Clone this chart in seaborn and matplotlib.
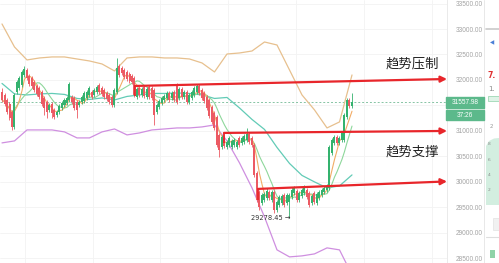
import numpy as np
import pandas as pd
import matplotlib
matplotlib.use("Agg")
import matplotlib.pyplot as plt
from matplotlib.patches import Rectangle, Polygon
import seaborn as sns

# ---------------- data ----------------
open_ = [31763, 31704, 31606, 31527, 31370, 31076, 31763, 31842, 31901, 32097,
         32195, 32077, 32038, 31960, 31881, 31842, 31763, 31645, 31567, 31410,
         31527, 31410, 31311, 31370, 31449, 31508, 31547, 31606, 31665, 31645,
         31567, 31508, 31567, 31586, 31645, 31704, 31763, 31704, 31763, 31901,
         31842, 31802, 31743, 31704, 31665, 31508, 31763, 32274, 32234, 32195,
         32156, 32117, 32077, 32038, 31665, 31842, 31704, 31861, 31665, 31861,
         31842, 31802, 31370, 31469, 31547, 31606, 31645, 31743, 31645, 31763,
         31881, 31645, 31822, 31665, 31763, 31567, 31645, 31704, 31763, 31881,
         31802, 31743, 31665, 31606, 31469, 31351, 31272, 30919, 30683, 30860,
         30683, 30722, 30683, 30722, 30683, 30860, 30762, 30781, 30820, 30938,
         30860, 30722, 30172, 29799, 29583, 29642, 29681, 29799, 29642, 29799,
         29446, 29544, 29583, 29740, 29583, 29603, 29701, 29779, 29819, 29642,
         29721, 29779, 29838, 29779, 29583, 29779, 29583, 29681, 29740, 29799,
         29838, 29878, 30565, 30762, 30879, 30762, 30820, 30820, 31272, 31606,
         31488]
close = [31606, 31527, 31370, 31252, 31076, 31704, 31960, 32038, 32156, 32215,
         32038, 31920, 31881, 31802, 31724, 31665, 31527, 31449, 31370, 31508,
         31351, 31272, 31370, 31488, 31547, 31606, 31645, 31920, 31567, 31449,
         31410, 31567, 31665, 31743, 31763, 31842, 31665, 31802, 31861, 31763,
         31724, 31665, 31626, 31567, 31508, 31802, 32234, 32097, 32136, 32058,
         32018, 31979, 31960, 31704, 31822, 31704, 31822, 31685, 31822, 31665,
         31645, 31311, 31508, 31586, 31645, 31685, 31743, 31606, 31743, 31606,
         31567, 31822, 31665, 31763, 31567, 31704, 31763, 31842, 31881, 31743,
         31645, 31586, 31449, 31292, 31174, 31056, 30722, 30624, 30879, 30703,
         30781, 30860, 30801, 30820, 30781, 30722, 30860, 30899, 30938, 30781,
         30722, 30133, 29642, 29505, 29740, 29760, 29819, 29681, 29799, 29446,
         29603, 29701, 29721, 29544, 29740, 29740, 29838, 29878, 29642, 29779,
         29838, 29878, 29701, 29544, 29721, 29603, 29760, 29799, 29838, 29878,
         29917, 30683, 30820, 30879, 30762, 30860, 30958, 31311, 31606, 31488,
         31557.98]
high = [31842, 31745, 31650, 31570, 31410, 31745, 32000, 32080, 32195, 32274,
        32235, 32117, 32080, 32000, 31920, 31880, 31800, 31685, 31606, 31550,
        31567, 31450, 31410, 31527, 31586, 31645, 31685, 31960, 31704, 31685,
        31606, 31606, 31704, 31783, 31802, 31881, 31802, 31842, 31901, 31940,
        31881, 31842, 31783, 31743, 31704, 31842, 32431, 32314, 32274, 32234,
        32195, 32156, 32117, 32077, 31861, 31881, 31861, 31901, 31861, 31901,
        31881, 31842, 31547, 31626, 31685, 31724, 31783, 31783, 31783, 31802,
        31940, 31861, 31861, 31802, 31802, 31743, 31802, 31881, 31920, 31920,
        31842, 31783, 31704, 31645, 31508, 31390, 31311, 30958, 30919, 30899,
        30820, 30899, 30840, 30860, 30820, 30899, 30899, 30938, 31056, 30978,
        30899, 30762, 30211, 29838, 29779, 29799, 29878, 29838, 29838, 29838,
        29642, 29740, 29760, 29779, 29779, 29779, 29897, 29917, 29858, 29819,
        29878, 29937, 29878, 29819, 29760, 29819, 29799, 29838, 29878, 29917,
        29956, 30722, 30860, 30919, 30919, 30899, 30998, 31351, 31645, 31645,
        31743]
low = [31567, 31490, 31330, 31210, 31017, 31040, 31720, 31800, 31860, 32060,
       32000, 31880, 31840, 31760, 31685, 31626, 31490, 31311, 31252, 31370,
       31252, 31232, 31272, 31330, 31410, 31469, 31508, 31567, 31527, 31410,
       31252, 31469, 31527, 31547, 31606, 31665, 31626, 31665, 31724, 31724,
       31685, 31626, 31586, 31527, 31469, 31469, 31724, 32058, 32097, 32018,
       31979, 31940, 31920, 31665, 31626, 31665, 31665, 31645, 31626, 31626,
       31606, 31115, 31330, 31430, 31508, 31567, 31606, 31567, 31606, 31567,
       31527, 31606, 31626, 31626, 31527, 31527, 31606, 31665, 31724, 31704,
       31606, 31547, 31410, 31252, 31135, 31017, 30683, 30487, 30644, 30664,
       30644, 30683, 30644, 30683, 30644, 30683, 30722, 30742, 30781, 30742,
       30683, 30094, 29603, 29446, 29544, 29603, 29642, 29642, 29603, 29387,
       29407, 29505, 29544, 29505, 29544, 29278.45, 29662, 29740, 29603, 29603,
       29681, 29740, 29662, 29505, 29544, 29563, 29544, 29642, 29701, 29760,
       29799, 29838, 30526, 30722, 30722, 30722, 30781, 30781, 31232, 31449,
       31449]

band_idx = [0, 5, 10, 15, 20, 25, 30, 35, 40, 45, 50, 55, 60, 65, 70, 75, 80,
            85, 90, 95, 100, 105, 110, 115, 120, 125, 130, 135, 140]
upper_band = [33099, 32647, 32392, 32431, 32451, 32451, 32411, 32372, 32313,
              32176, 32431, 32451, 32451, 32431, 32431, 32411, 32333, 32156,
              32509, 32529, 32568, 32745, 32686, 32195, 31704, 31410, 31056,
              31174, 32097]
lower_band = [30762, 30801, 31017, 31017, 31017, 30978, 30860, 30860, 30978,
              31036, 30919, 30958, 31017, 31036, 31056, 31056, 31076, 31115,
              30801, 30369, 29878, 29308, 28660, 28522, 28542, 28581, 28699,
              28660, 28169]

price_ticks = [28500, 29000, 29500, 30000, 30500, 31000, 31500, 32000, 32500,
               33000, 33500]
last_price = 31557.98
low_label = "29278.45 →"
timer_label = "37:26"
label_top = "趋势压制"
label_bottom = "趋势支撑"

# trend arrows: (start index, start price, end price)
arrow_start_i = [53.2, 88.8, 102.4]
arrow_start_p = [31881, 30958, 29858]
arrow_end_p = [32018, 30997, 30005]
arrow_tick_p = [31685, 30762, 29642]

# ---------------- style ----------------
sns.set_theme(style="white")
plt.rcParams["font.family"] = ["Noto Sans CJK SC", "DejaVu Sans"]

UP = "#34b26e"
DOWN = "#ec5a63"
RED = "#e8262b"

W, H = 499, 263
fig = plt.figure(figsize=(W / 100, H / 100), dpi=100)
fig.patch.set_facecolor("white")
ax = fig.add_axes([0, 0, 447 / W, 1])
ax.set_facecolor("white")

n = len(close)
df = pd.DataFrame(dict(i=np.arange(n), open=open_, high=high, low=low,
                       close=close))
df["ma5"] = df["close"].rolling(5, min_periods=1).mean()
df["ma10"] = df["close"].rolling(10, min_periods=1).mean()
bands = pd.DataFrame(dict(i=band_idx, upper=upper_band, lower=lower_band))
bands["mid"] = (bands["upper"] + bands["lower"]) / 2

ax.set_xlim(-0.8, 178.0)
ax.set_ylim(28402, 33570)

# grid
ax.set_xticks([9.2, 36.4, 63.2, 90.4, 117.6, 144.8, 172.0])
ax.set_xticklabels([])
ax.tick_params(axis="x", length=0)
ax.set_yticks(price_ticks)
ax.grid(True, color="#f3f3f3", lw=0.6)
ax.yaxis.tick_right()
# the 31500 label is hidden under the live price tag
tick_text = ["" if abs(v - last_price) < 150 else f"{v:.2f}"
             for v in price_ticks]
ax.set_yticklabels(tick_text, fontsize=4.7, color="#a3a3a3",
                   fontfamily="Liberation Sans")
ax.tick_params(axis="y", length=0, pad=6)
for s in ["top", "left", "bottom"]:
    ax.spines[s].set_visible(False)
ax.spines["right"].set_color("#e6e6e6")
ax.spines["right"].set_linewidth(0.6)

# indicator lines
sns.lineplot(data=bands, x="i", y="upper", ax=ax, color="#e7c08e", lw=0.9,
             zorder=2)
sns.lineplot(data=bands, x="i", y="lower", ax=ax, color="#cf8fe0", lw=0.9,
             zorder=2)
sns.lineplot(data=bands, x="i", y="mid", ax=ax, color="#62cbb6", lw=0.9,
             zorder=2)
sns.lineplot(data=df, x="i", y="ma10", ax=ax, color="#8ed79b", lw=0.8,
             zorder=2)
sns.lineplot(data=df, x="i", y="ma5", ax=ax, color="#f2ac66", lw=0.8,
             zorder=2)
ax.set_xlabel("")
ax.set_ylabel("")

# candles
up = df["close"] >= df["open"]
colors = np.where(up, UP, DOWN)
ax.vlines(df["i"], df["low"], df["high"], colors=colors, lw=0.6, zorder=3)
body_lo = np.minimum(df["open"], df["close"])
body_h = np.maximum(np.abs(df["close"] - df["open"]), 18)
ax.bar(df["i"], body_h, bottom=body_lo, width=0.8, color=colors,
       linewidth=0, zorder=3)

# last-price dashed line
ax.axhline(last_price, color="#86c4a4", lw=0.7, ls=(0, (2, 2)), zorder=1)

# trend arrows
for si, sp, ep, tp in zip(arrow_start_i, arrow_start_p, arrow_end_p,
                          arrow_tick_p):
    ax.plot([si, si], [sp, tp], color=RED, lw=1.3, zorder=5,
            solid_capstyle="butt")
    ax.annotate("", xy=(178.0, ep), xytext=(si, sp),
                arrowprops=dict(arrowstyle="-|>", color=RED, lw=1.6,
                                mutation_scale=9, shrinkA=0, shrinkB=0),
                zorder=5, annotation_clip=False)

# low label
ax.text(115.4, 29289, low_label, ha="right", va="center", fontsize=4.8,
        family="DejaVu Sans", color="#333333", zorder=6)

# Chinese labels
fig.text(412 / W, 1 - 63 / H, label_top, ha="center", va="center",
         fontsize=9.6, color="#222222")
fig.text(412 / W, 1 - 152 / H, label_bottom, ha="center", va="center",
         fontsize=9.6, color="#222222")

# price tags on the axis
TAG = "#5cb98b"
fig.patches.append(Rectangle((446 / W, 1 - 108 / H), 38 / W, 11 / H,
                             transform=fig.transFigure, color=TAG, zorder=4))
fig.patches.append(Rectangle((446 / W, 1 - 120 / H), 38 / W, 10 / H,
                             transform=fig.transFigure, color=TAG, zorder=4))
fig.text(465 / W, 1 - 102.5 / H, f"{last_price:.2f}", ha="center",
         va="center", fontsize=4.7, color="white",
         fontfamily="Liberation Sans", zorder=6)
fig.text(465 / W, 1 - 115 / H, timer_label, ha="center", va="center",
         fontsize=4.7, color="white", fontfamily="Liberation Sans", zorder=6)

# right side panel (partially visible)
fig.lines.append(plt.Line2D([484 / W, 484 / W], [0, 1],
                            transform=fig.transFigure, color="#e4e4e4",
                            lw=0.6))
fig.lines.append(plt.Line2D([486 / W, 1], [1 - 29 / H, 1 - 29 / H],
                            transform=fig.transFigure, color="#c9c9c9",
                            lw=1.2))
fig.lines.append(plt.Line2D([486 / W, 1], [1 - 237 / H, 1 - 237 / H],
                            transform=fig.transFigure, color="#dedede",
                            lw=0.8))
fig.text(492 / W, 1 - 43 / H, "◀", ha="center", va="center", fontsize=4,
         color="#4a7fd6", family="DejaVu Sans")
fig.text(488 / W, 1 - 75 / H, "7.", ha="left", va="center", fontsize=5.5,
         color="#e03030", fontweight="bold", family="DejaVu Sans")
fig.text(488 / W, 1 - 89 / H, "1.", ha="left", va="center", fontsize=5,
         color="#888888", family="DejaVu Sans")
fig.patches.append(Rectangle((488 / W, 1 - 101 / H), 11 / W, 5 / H,
                             transform=fig.transFigure, facecolor="#dff3e7",
                             edgecolor="#8fd0a8", lw=0.5))
fig.text(490 / W, 1 - 127 / H, "2", ha="left", va="center", fontsize=4,
         color="#9a9a9a", family="DejaVu Sans")
area = Polygon([(486 / W, 1 - 205 / H), (486 / W, 1 - 146 / H),
                (489 / W, 1 - 141 / H), (494 / W, 1 - 138.5 / H),
                (1, 1 - 138 / H), (1, 1 - 205 / H)],
               closed=True, transform=fig.transFigure, facecolor="#d3eee0",
               edgecolor="none")
fig.patches.append(area)
for yy, t in zip([144, 160, 175, 190], ["8", "6", "4", "2"]):
    fig.text(487.5 / W, 1 - yy / H, t, ha="left", va="center", fontsize=3.2,
             color="#8a8a8a", family="DejaVu Sans")
fig.patches.append(Rectangle((493 / W, 1 - 230 / H), 6 / W, 12 / H,
                             transform=fig.transFigure, facecolor="#f1f1f1",
                             edgecolor="#e2e2e2", lw=0.5))
fig.patches.append(Rectangle((490 / W, 1 - 258 / H), 5 / W, 8 / H,
                             transform=fig.transFigure, facecolor="#8fd3a8",
                             edgecolor="none"))

fig.savefig("out.png", dpi=100, facecolor="white")
